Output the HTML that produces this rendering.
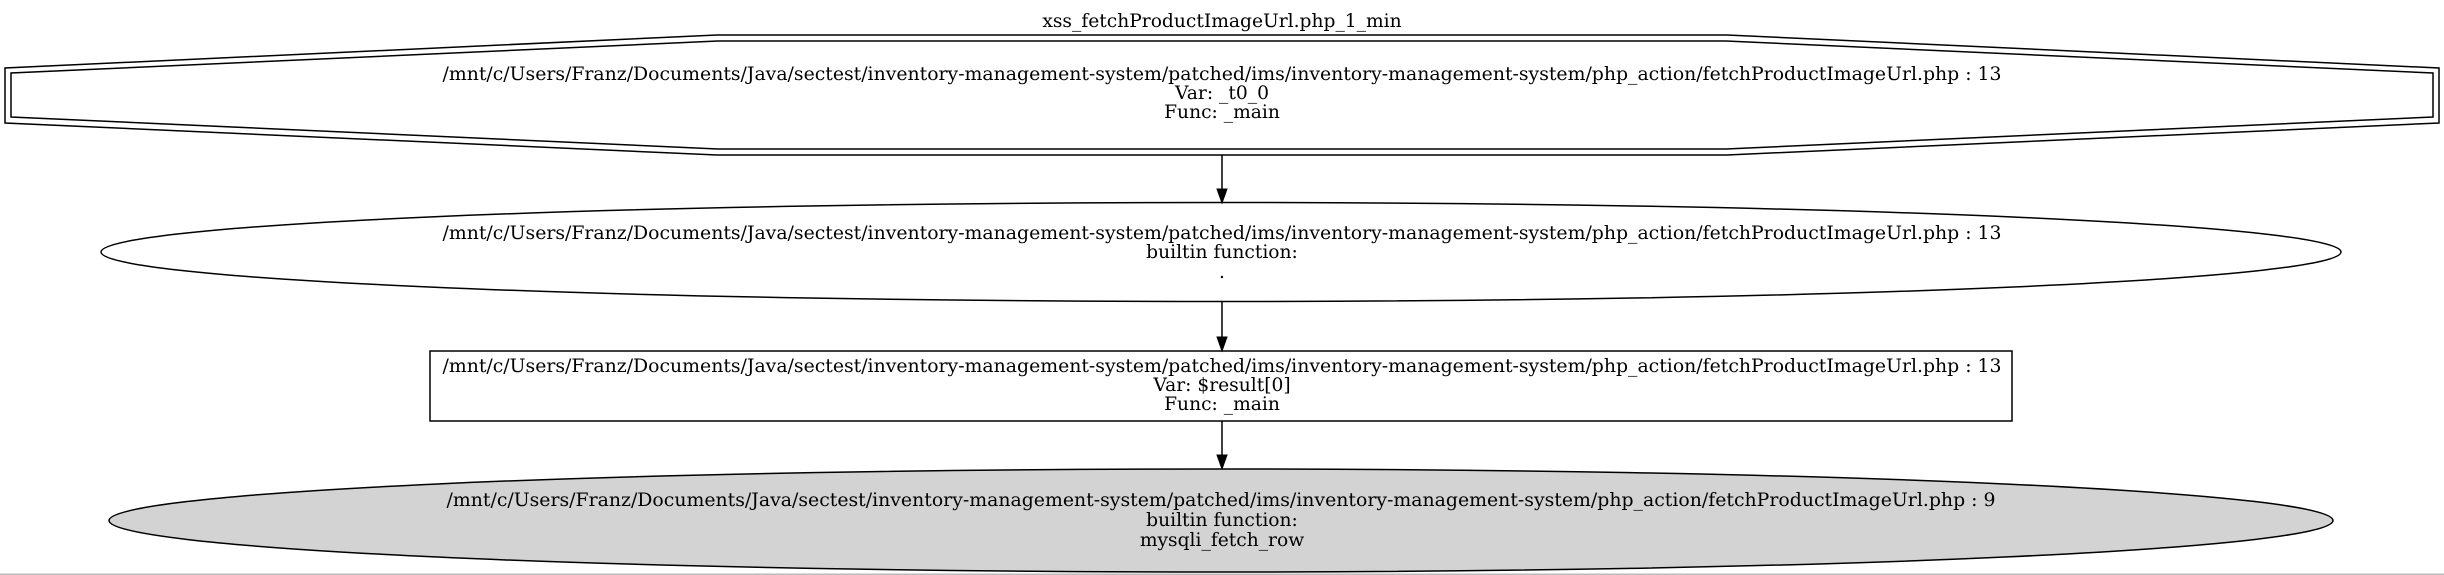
<!DOCTYPE html>
<html><head><meta charset="utf-8"><style>html,body{margin:0;padding:0;background:#fff}svg{display:block}</style></head>
<body>
<svg width="2444" height="575" viewBox="0 0 2444 575" xmlns="http://www.w3.org/2000/svg" font-family="DejaVu Serif, serif" font-size="18.67px" text-anchor="middle">
<text x="1222" y="27">xss_fetchProductImageUrl.php_1_min</text>
<polygon points="717,35 1727,35 2439,68 2439,123 1727,155 717,155 5,123 5,68" fill="none" stroke="#000" stroke-width="1.5"/>
<polygon points="718,41 1726,41 2433,73 2433,117 1726,149 718,149 11,117 11,73" fill="none" stroke="#000" stroke-width="1.5"/>
<text x="1222" y="80" textLength="1559" lengthAdjust="spacingAndGlyphs">/mnt/c/Users/Franz/Documents/Java/sectest/inventory-management-system/patched/ims/inventory-management-system/php_action/fetchProductImageUrl.php : 13</text>
<text x="1222" y="99">Var: _t0_0</text>
<text x="1222" y="118">Func: _main</text>
<line x1="1222" y1="155" x2="1222" y2="190" stroke="#000" stroke-width="1.5"/>
<polygon points="1217,189 1227,189 1222,203" fill="#000" stroke="#000"/>
<ellipse cx="1221" cy="252" rx="1120" ry="49.5" fill="none" stroke="#000" stroke-width="1.5"/>
<text x="1222" y="239" textLength="1559" lengthAdjust="spacingAndGlyphs">/mnt/c/Users/Franz/Documents/Java/sectest/inventory-management-system/patched/ims/inventory-management-system/php_action/fetchProductImageUrl.php : 13</text>
<text x="1222" y="258">builtin function:</text>
<text x="1222" y="278">.</text>
<line x1="1222" y1="302" x2="1222" y2="338" stroke="#000" stroke-width="1.5"/>
<polygon points="1217,337 1227,337 1222,351" fill="#000" stroke="#000"/>
<rect x="430" y="351" width="1582" height="70" fill="none" stroke="#000" stroke-width="1.5"/>
<text x="1222" y="372" textLength="1559" lengthAdjust="spacingAndGlyphs">/mnt/c/Users/Franz/Documents/Java/sectest/inventory-management-system/patched/ims/inventory-management-system/php_action/fetchProductImageUrl.php : 13</text>
<text x="1222" y="391">Var: $result[0]</text>
<text x="1222" y="410">Func: _main</text>
<line x1="1222" y1="421" x2="1222" y2="456" stroke="#000" stroke-width="1.5"/>
<polygon points="1217,455 1227,455 1222,469" fill="#000" stroke="#000"/>
<ellipse cx="1221" cy="520.5" rx="1112" ry="51.5" fill="#d3d3d3" stroke="#000" stroke-width="1.5"/>
<text x="1221" y="506" textLength="1549" lengthAdjust="spacingAndGlyphs">/mnt/c/Users/Franz/Documents/Java/sectest/inventory-management-system/patched/ims/inventory-management-system/php_action/fetchProductImageUrl.php : 9</text>
<text x="1222" y="526">builtin function:</text>
<text x="1222" y="546">mysqli_fetch_row</text>
<rect x="0" y="573.5" width="2444" height="1.5" fill="#bbb"/>
</svg>
</body></html>
